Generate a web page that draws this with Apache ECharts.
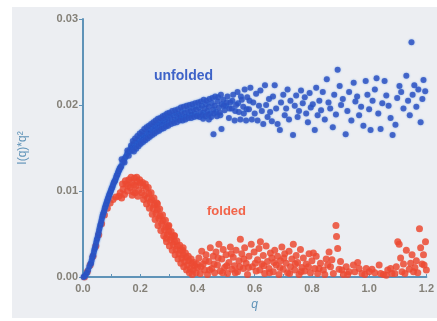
<!DOCTYPE html>
<html lang="en">
<head>
<meta charset="UTF-8">
<title>unfolded / folded</title>
<script src="https://cdn.jsdelivr.net/npm/echarts@6/dist/echarts.min.js"></script>
<style>
  html, body { margin: 0; padding: 0; background: #fff; }
  #main { width: 437px; height: 321px; }
</style>
</head>
<body>
<div id="main"></div>
<script>
// axis ticks
var xTicks = [0, 0.2, 0.4, 0.6, 0.8, 1.0, 1.2];
var yTicks = [0, 0.01, 0.02, 0.03];

// unfolded sample, [q, I(q)*q^2]
var unfolded = [
  [0.002,0.0000],[0.006,0.0001],[0.010,0.0003],[0.014,0.0005],[0.018,0.0008],[0.022,0.0012],
  [0.026,0.0015],[0.030,0.0019],[0.034,0.0024],[0.038,0.0029],[0.042,0.0034],[0.046,0.0040],
  [0.050,0.0045],[0.054,0.0051],[0.058,0.0057],[0.062,0.0062],[0.066,0.0068],[0.070,0.0073],
  [0.074,0.0077],[0.078,0.0082],[0.082,0.0086],[0.086,0.0090],[0.090,0.0094],[0.094,0.0097],
  [0.098,0.0101],[0.102,0.0104],[0.106,0.0108],[0.110,0.0111],[0.114,0.0114],[0.118,0.0118],
  [0.122,0.0121],[0.126,0.0124],[0.130,0.0127],[0.134,0.0129],[0.138,0.0133],[0.142,0.0135],
  [0.146,0.0138],[0.150,0.0140],[0.154,0.0143],[0.158,0.0145],[0.162,0.0146],[0.166,0.0149],
  [0.028,0.0016],[0.032,0.0022],[0.036,0.0026],[0.040,0.0032],[0.044,0.0037],[0.048,0.0043],
  [0.052,0.0048],[0.056,0.0054],[0.060,0.0060],[0.064,0.0065],[0.068,0.0071],[0.072,0.0075],
  [0.076,0.0080],[0.080,0.0084],[0.084,0.0088],[0.088,0.0092],[0.092,0.0096],[0.096,0.0099],
  [0.100,0.0103],[0.104,0.0106],[0.108,0.0110],[0.112,0.0112],[0.116,0.0116],[0.120,0.0119],
  [0.124,0.0123],[0.128,0.0126],[0.132,0.0128],
  [0.170,0.0151],[0.135,0.0137],[0.145,0.0133],[0.155,0.0147],[0.160,0.0141],[0.168,0.0153],
  [0.172,0.0147],[0.176,0.0155],[0.180,0.0150],[0.184,0.0158],[0.188,0.0153],[0.192,0.0160],
  [0.196,0.0155],[0.200,0.0163],[0.204,0.0158],[0.208,0.0165],[0.212,0.0160],[0.216,0.0167],
  [0.220,0.0162],[0.224,0.0170],[0.228,0.0164],[0.232,0.0171],[0.236,0.0167],[0.240,0.0174],
  [0.244,0.0168],[0.248,0.0176],[0.252,0.0171],[0.256,0.0178],[0.260,0.0172],[0.264,0.0179],
  [0.268,0.0174],[0.272,0.0181],[0.276,0.0176],[0.280,0.0182],[0.284,0.0177],[0.288,0.0184],
  [0.292,0.0178],[0.296,0.0185],[0.300,0.0180],[0.305,0.0187],[0.310,0.0181],[0.315,0.0188],
  [0.320,0.0183],[0.325,0.0190],[0.330,0.0184],[0.335,0.0189],[0.340,0.0186],[0.345,0.0192],
  [0.350,0.0185],[0.355,0.0191],[0.360,0.0187],[0.365,0.0194],[0.370,0.0188],[0.375,0.0193],
  [0.380,0.0189],[0.385,0.0196],[0.390,0.0190],[0.395,0.0195],[0.400,0.0188],[0.405,0.0197],
  [0.410,0.0192],[0.415,0.0199],[0.420,0.0191],[0.425,0.0196],[0.430,0.0201],[0.435,0.0193],
  [0.440,0.0198],[0.445,0.0190],[0.450,0.0202],[0.455,0.0195],[0.460,0.0199],[0.465,0.0192],
  [0.470,0.0204],[0.475,0.0197],[0.480,0.0188],[0.485,0.0201],[0.490,0.0206],[0.495,0.0194],
  [0.500,0.0199],[0.456,0.0166],[0.484,0.0172],[0.440,0.0183],[0.420,0.0184],
  [0.174,0.0158],[0.182,0.0161],[0.190,0.0164],[0.198,0.0167],[0.206,0.0169],[0.214,0.0172],
  [0.222,0.0174],[0.230,0.0176],[0.238,0.0178],[0.246,0.0180],[0.254,0.0182],[0.262,0.0184],
  [0.270,0.0185],[0.278,0.0187],[0.286,0.0188],[0.294,0.0190],[0.302,0.0191],[0.312,0.0193],
  [0.322,0.0194],[0.332,0.0195],[0.342,0.0197],[0.352,0.0198],[0.362,0.0199],[0.372,0.0200],
  [0.382,0.0201],[0.392,0.0202],[0.402,0.0203],[0.412,0.0204],[0.422,0.0206],[0.432,0.0205],
  [0.442,0.0207],[0.178,0.0146],[0.186,0.0149],[0.194,0.0152],[0.202,0.0155],[0.210,0.0157],
  [0.218,0.0159],[0.226,0.0161],[0.234,0.0163],[0.242,0.0165],[0.250,0.0167],[0.258,0.0169],
  [0.266,0.0170],[0.274,0.0172],[0.282,0.0173],[0.290,0.0175],[0.298,0.0176],[0.308,0.0178],
  [0.318,0.0179],[0.328,0.0180],[0.338,0.0182],[0.348,0.0182],[0.358,0.0183],[0.368,0.0185],
  [0.378,0.0185],[0.388,0.0186],[0.398,0.0187],[0.408,0.0186],[0.418,0.0188],[0.428,0.0187],
  [0.438,0.0189],[0.448,0.0186],[0.458,0.0190],[0.468,0.0187],[0.478,0.0191],
  [0.452,0.0208],[0.462,0.0210],[0.472,0.0209],[0.482,0.0212],[0.492,0.0199],[0.502,0.0203],
  [0.512,0.0196],[0.522,0.0205],[0.532,0.0193],[0.542,0.0202],[0.552,0.0210],[0.562,0.0190],
  [0.572,0.0195],[0.582,0.0205],
  [0.505,0.0210],[0.510,0.0185],[0.515,0.0203],[0.520,0.0196],[0.525,0.0212],[0.530,0.0182],
  [0.535,0.0200],[0.540,0.0215],[0.545,0.0192],[0.550,0.0183],[0.555,0.0206],[0.560,0.0198],
  [0.565,0.0218],[0.570,0.0182],[0.574,0.0209],[0.580,0.0195],[0.585,0.0220],[0.590,0.0183],
  [0.595,0.0203],[0.600,0.0190],[0.605,0.0213],[0.610,0.0182],[0.615,0.0199],[0.620,0.0217],
  [0.625,0.0193],[0.630,0.0178],[0.636,0.0223],[0.640,0.0200],[0.645,0.0186],[0.650,0.0207],
  [0.654,0.0192],[0.660,0.0181],[0.664,0.0210],[0.670,0.0223],[0.675,0.0196],[0.680,0.0178],
  [0.688,0.0171],[0.692,0.0203],[0.700,0.0212],[0.705,0.0188],[0.710,0.0196],[0.715,0.0218],
  [0.720,0.0183],[0.725,0.0205],[0.734,0.0165],[0.740,0.0199],[0.745,0.0211],[0.750,0.0186],
  [0.755,0.0193],[0.762,0.0217],[0.768,0.0202],[0.775,0.0209],[0.780,0.0190],[0.786,0.0180],
  [0.792,0.0214],[0.796,0.0197],[0.803,0.0201],[0.810,0.0171],[0.815,0.0220],[0.820,0.0188],
  [0.826,0.0205],[0.832,0.0194],[0.838,0.0215],[0.845,0.0183],[0.852,0.0230],[0.858,0.0203],
  [0.864,0.0196],[0.873,0.0174],[0.878,0.0212],[0.884,0.0189],[0.890,0.0241],[0.897,0.0222],
  [0.902,0.0200],[0.908,0.0207],[0.918,0.0166],[0.924,0.0193],[0.930,0.0215],[0.938,0.0182],
  [0.946,0.0226],[0.952,0.0204],[0.958,0.0210],[0.965,0.0188],[0.972,0.0198],[0.980,0.0176],
  [0.988,0.0228],[0.994,0.0212],[1.000,0.0195],[1.005,0.0171],[1.012,0.0205],[1.020,0.0218],
  [1.026,0.0231],[1.032,0.0190],[1.040,0.0172],[1.046,0.0202],[1.054,0.0228],[1.060,0.0211],
  [1.068,0.0199],[1.075,0.0185],[1.082,0.0165],[1.092,0.0177],[1.098,0.0208],[1.106,0.0222],
  [1.112,0.0215],[1.120,0.0196],[1.130,0.0234],[1.136,0.0205],[1.142,0.0188],[1.148,0.0273],
  [1.152,0.0212],[1.158,0.0223],[1.165,0.0198],[1.172,0.0218],[1.180,0.0180],[1.186,0.0207],
  [1.190,0.0229],[1.196,0.0216]
];

// folded sample
var folded = [
  [0.005,0.0000],[0.015,0.0006],[0.025,0.0014],[0.035,0.0024],[0.045,0.0036],[0.055,0.0049],
  [0.065,0.0062],[0.075,0.0072],[0.085,0.0080],[0.095,0.0086],[0.105,0.0090],[0.115,0.0093],
  [0.125,0.0094],[0.130,0.0098],[0.135,0.0092],[0.140,0.0102],[0.145,0.0096],[0.150,0.0108],
  [0.155,0.0100],[0.160,0.0113],[0.165,0.0104],[0.170,0.0110],[0.175,0.0099],[0.180,0.0115],
  [0.185,0.0106],[0.190,0.0111],[0.195,0.0101],[0.200,0.0109],[0.205,0.0098],[0.210,0.0106],
  [0.215,0.0095],[0.220,0.0103],[0.225,0.0092],[0.230,0.0097],[0.235,0.0087],[0.240,0.0090],
  [0.245,0.0080],[0.250,0.0084],[0.255,0.0074],[0.260,0.0078],[0.265,0.0068],[0.270,0.0071],
  [0.275,0.0062],[0.280,0.0065],[0.285,0.0055],[0.290,0.0058],[0.295,0.0049],[0.300,0.0053],
  [0.305,0.0043],[0.310,0.0046],[0.315,0.0038],[0.320,0.0041],[0.325,0.0032],[0.330,0.0036],
  [0.335,0.0027],[0.340,0.0031],[0.345,0.0022],[0.350,0.0026],[0.355,0.0018],[0.360,0.0023],
  [0.365,0.0014],[0.370,0.0019],[0.375,0.0010],[0.380,0.0016],[0.385,0.0008],[0.390,0.0013],
  [0.395,0.0005],[0.400,0.0011],[0.260,0.0085],[0.300,0.0060],[0.320,0.0048],[0.350,0.0034],
  [0.290,0.0045],
  [0.138,0.0108],[0.148,0.0112],[0.158,0.0106],[0.168,0.0116],[0.178,0.0107],[0.188,0.0116],
  [0.198,0.0113],[0.208,0.0110],[0.218,0.0108],[0.228,0.0104],[0.238,0.0098],[0.248,0.0092],
  [0.258,0.0086],[0.268,0.0079],[0.278,0.0072],[0.288,0.0066],[0.298,0.0059],[0.308,0.0053],
  [0.318,0.0048],[0.328,0.0042],[0.338,0.0037],[0.348,0.0031],[0.358,0.0028],[0.368,0.0024],
  [0.378,0.0021],[0.388,0.0017],[0.398,0.0015],
  [0.172,0.0095],[0.182,0.0098],[0.192,0.0094],[0.212,0.0090],[0.222,0.0085],[0.232,0.0080],
  [0.242,0.0073],[0.252,0.0067],[0.262,0.0060],[0.272,0.0054],[0.282,0.0048],[0.292,0.0041],
  [0.302,0.0036],[0.312,0.0031],[0.322,0.0026],[0.332,0.0021],[0.342,0.0016],[0.352,0.0012],
  [0.362,0.0008],[0.372,0.0005],[0.382,0.0003],
  [0.405,0.0022],[0.410,0.0004],[0.415,0.0030],[0.420,0.0015],[0.425,0.0008],[0.430,0.0026],
  [0.435,0.0003],[0.440,0.0018],[0.445,0.0034],[0.450,0.0010],[0.455,0.0024],[0.460,0.0005],
  [0.465,0.0029],[0.470,0.0014],[0.475,0.0038],[0.480,0.0007],[0.485,0.0021],[0.490,0.0032],
  [0.495,0.0011],[0.500,0.0026],[0.505,0.0004],[0.510,0.0017],[0.515,0.0035],[0.520,0.0009],
  [0.525,0.0023],[0.530,0.0013],[0.535,0.0031],[0.540,0.0006],[0.545,0.0019],[0.550,0.0044],
  [0.555,0.0027],[0.560,0.0010],[0.565,0.0034],[0.570,0.0016],[0.575,0.0003],[0.580,0.0024],
  [0.588,0.0038],[0.592,0.0012],[0.598,0.0029],[0.605,0.0007],[0.610,0.0020],[0.615,0.0033],
  [0.620,0.0041],[0.625,0.0015],[0.630,0.0025],[0.635,0.0004],[0.640,0.0036],[0.645,0.0018],
  [0.650,0.0010],[0.655,0.0028],[0.660,0.0022],[0.665,0.0006],[0.670,0.0031],[0.675,0.0014],
  [0.680,0.0024],[0.685,0.0003],[0.690,0.0019],[0.695,0.0035],[0.700,0.0009],[0.705,0.0027],
  [0.710,0.0016],[0.715,0.0005],[0.720,0.0030],[0.725,0.0012],[0.730,0.0021],[0.735,0.0038],
  [0.740,0.0008],[0.745,0.0025],[0.750,0.0017],[0.755,0.0003],[0.760,0.0032],[0.765,0.0011],
  [0.770,0.0022],[0.775,0.0007],[0.780,0.0015],[0.790,0.0027],[0.795,0.0005],[0.800,0.0019],
  [0.810,0.0010],[0.815,0.0024],[0.820,0.0004],[0.830,0.0016],[0.840,0.0008],[0.850,0.0021],
  [0.860,0.0029],[0.865,0.0012],[0.875,0.0004],[0.884,0.0060],[0.886,0.0047],[0.890,0.0033],
  [0.895,0.0009],[0.900,0.0018],[0.910,0.0003],[0.920,0.0012],[0.930,0.0006],[0.945,0.0014],
  [0.960,0.0017],[0.975,0.0004],[0.990,0.0010],[1.010,0.0009],[1.020,0.0005],[1.035,0.0014],
  [1.050,0.0003],[1.065,0.0008],[1.080,0.0004],[1.095,0.0012],[1.100,0.0041],[1.105,0.0038],
  [1.110,0.0022],[1.115,0.0006],[1.120,0.0015],[1.130,0.0031],[1.140,0.0009],[1.150,0.0026],
  [1.160,0.0011],[1.165,0.0019],[1.170,0.0005],[1.176,0.0056],[1.180,0.0034],[1.185,0.0015],
  [1.190,0.0026],[1.197,0.0041],[1.200,0.0008],
  [0.412,0.0012],[0.428,0.0019],[0.442,0.0008],[0.458,0.0015],[0.472,0.0022],[0.488,0.0005],
  [0.502,0.0013],[0.518,0.0027],[0.532,0.0005],[0.548,0.0012],[0.562,0.0021],[0.578,0.0011],
  [0.602,0.0016],[0.618,0.0008],[0.632,0.0013],[0.652,0.0005],[0.668,0.0017],[0.688,0.0011],
  [0.702,0.0022],[0.722,0.0004],[0.742,0.0015],[0.762,0.0006],[0.788,0.0012],[0.805,0.0028],
  [0.825,0.0010],[0.845,0.0003],[0.855,0.0014],[0.870,0.0020],[0.905,0.0008],[0.925,0.0003],
  [0.950,0.0006],[0.965,0.0010],[0.985,0.0003],[1.000,0.0006],[1.040,0.0004],[1.060,0.0002],
  [1.075,0.0010],[1.090,0.0004],[1.125,0.0004],[1.145,0.0016],[1.155,0.0006],[1.192,0.0014]
];

var axisColor = '#5f93b8';
var labelColor = '#848078';

var myChart = echarts.init(document.getElementById('main'));

var option = {
  backgroundColor: '#ffffff',
  animation: false,
  graphic: [
    { type: 'rect', z: -10, silent: true,
      shape: { x: 12, y: 7, width: 425, height: 311 },
      style: { fill: '#eceef2' } },
    { type: 'text', left: 154, top: 69,
      style: { text: 'unfolded', fill: '#3e63c8', font: 'bold 14px "Liberation Sans", Arial, sans-serif' } },
    { type: 'text', left: 207, top: 205,
      style: { text: 'folded', fill: '#f2644a', font: 'bold 13px "Liberation Sans", Arial, sans-serif' } }
  ],
  grid: { left: 83, right: 8, top: 19, bottom: 44 },
  xAxis: {
    type: 'value',
    min: 0, max: 1.2, interval: 0.2,
    name: 'q', nameLocation: 'middle', nameGap: 22,
    nameTextStyle: { color: axisColor, fontStyle: 'italic', fontSize: 12, fontFamily: 'Liberation Sans' },
    axisLine: { show: true, lineStyle: { color: axisColor, width: 2 } },
    axisTick: { show: true, inside: true, length: 3, lineStyle: { color: axisColor } },
    minorTick: { show: true, splitNumber: 2, length: 3, lineStyle: { color: axisColor } },
    splitLine: { show: false },
    axisLabel: {
      color: labelColor, fontSize: 11, fontWeight: 'bold', fontFamily: 'Liberation Sans', margin: 6,
      formatter: function (v) { return xTicks.indexOf(Math.round(v * 10) / 10) >= 0 ? v.toFixed(1) : ''; }
    }
  },
  yAxis: {
    type: 'value',
    min: 0, max: 0.03, interval: 0.01,
    name: 'I(q)*q²', nameLocation: 'middle', nameGap: 54, nameRotate: 90,
    nameTextStyle: { color: axisColor, fontSize: 12, fontFamily: 'Liberation Sans' },
    axisLine: { show: true, lineStyle: { color: axisColor, width: 2 } },
    axisTick: { show: true, length: 4, lineStyle: { color: axisColor } },
    splitLine: { show: false },
    axisLabel: {
      color: labelColor, fontSize: 11, fontWeight: 'bold', fontFamily: 'Liberation Sans', margin: 5,
      formatter: function (v) { return yTicks.indexOf(Math.round(v * 100) / 100) >= 0 ? v.toFixed(2) : ''; }
    }
  },
  series: [
    {
      name: 'folded', type: 'scatter', data: folded,
      symbol: 'circle', symbolSize: 7,
      itemStyle: { color: '#ec4a33', opacity: 0.85 }
    },
    {
      name: 'unfolded', type: 'scatter', data: unfolded,
      symbol: 'circle', symbolSize: 6,
      itemStyle: { color: '#2c4fbf', shadowBlur: 2, shadowColor: 'rgba(40,120,230,0.6)' }
    }
  ]
};

myChart.setOption(option);
</script>
</body>
</html>
